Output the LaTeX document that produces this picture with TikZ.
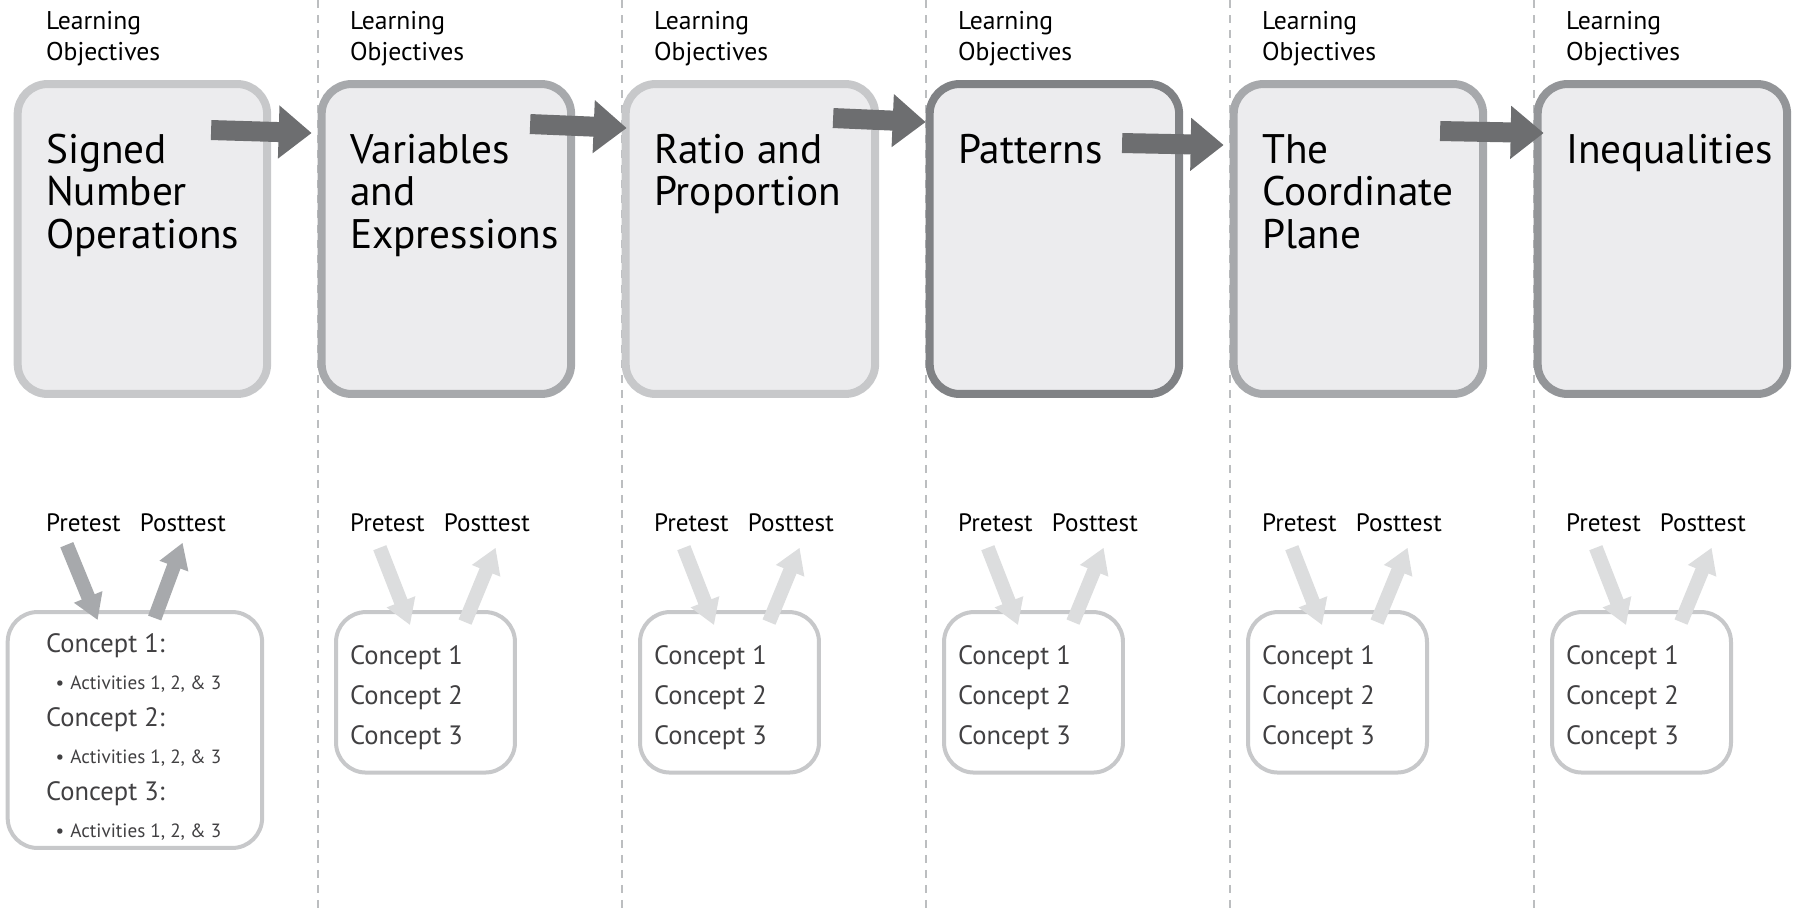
\documentclass[tikz,border=0pt]{standalone}
\usepackage{fontspec}
\setmainfont{PT Sans}
\usetikzlibrary{arrows.meta,calc}

\definecolor{boxfill}{HTML}{ECECEE}
\definecolor{lightrim}{HTML}{C7C8CA}
\definecolor{midrim}{HTML}{A7A9AC}
\definecolor{deeprim}{HTML}{939598}
\definecolor{darkrim}{HTML}{808285}
\definecolor{arrowgray}{HTML}{6D6E70}
\definecolor{testgray}{HTML}{DCDDDE}
\definecolor{divider}{HTML}{BCBEC0}
\definecolor{listtext}{HTML}{414042}

\begin{document}
\begin{tikzpicture}[x=0.02cm,y=-0.02cm]
    \tikzstyle{topic}=[rectangle, draw, line width=0.16cm, rounded corners=0.6cm, fill=boxfill, minimum width=4.99cm, minimum height=6.2cm, inner sep=0pt]
    \tikzstyle{concepts}=[rectangle, draw=lightrim, line width=0.08cm, rounded corners=0.6cm, fill=white, inner sep=0pt]
    \tikzstyle{heading}=[anchor=base west, inner sep=0pt, align=left, font=\fontsize{14.6}{17.1}\selectfont]
    \tikzstyle{title}=[anchor=base west, inner sep=0pt, align=left, font=\fontsize{23.5}{24.2}\selectfont]
    \tikzstyle{test}=[anchor=base west, inner sep=0pt, font=\fontsize{14.3}{16}\selectfont]
    \tikzstyle{list}=[anchor=base west, inner sep=0pt, align=left, text=listtext, font=\fontsize{15.1}{22.5}\selectfont]
    \tikzstyle{flow}=[draw=arrowgray, line width=0.4cm, -{Triangle[width=1.02cm,length=0.66cm]}]
    \tikzstyle{testarrow}=[line width=0.28cm, -{Triangle[width=0.58cm,length=0.5cm]}]

    \useasboundingbox (0,0) rectangle (1794,910);

    % dashed column dividers
    \foreach \x in {318,622,926,1230,1534}
        \draw[draw=divider, line width=0.05cm, dash pattern=on 0.16cm off 0.14cm] (\x,0) -- (\x,910);

    % topics
    \node[topic, draw=lightrim] (box1) at (142.4,239) {};
    \node[topic, draw=midrim] (box2) at (446.4,239) {};
    \node[topic, draw=lightrim] (box3) at (750.4,239) {};
    \node[topic, draw=darkrim] (box4) at (1054.4,239) {};
    \node[topic, draw=midrim] (box5) at (1358.4,239) {};
    \node[topic, draw=deeprim] (box6) at (1662.4,239) {};

    % base anchor = last line
    \node[heading] (goal1) at (45.8,60) {Learning\\Objectives};
    \node[heading] (goal2) at (349.8,60) {Learning\\Objectives};
    \node[heading] (goal3) at (653.8,60) {Learning\\Objectives};
    \node[heading] (goal4) at (957.8,60) {Learning\\Objectives};
    \node[heading] (goal5) at (1261.8,60) {Learning\\Objectives};
    \node[heading] (goal6) at (1565.8,60) {Learning\\Objectives};

    \node[title] (title1) at (45.8,248.3) {Signed\\Number\\Operations};
    \node[title] (title2) at (349.8,248.3) {Variables\\and\\Expressions};
    \node[title] (title3) at (653.8,205.8) {Ratio and\\Proportion};
    \node[title] (title4) at (957.8,163.3) {Patterns};
    \node[title] (title5) at (1261.8,248.3) {The\\Coordinate\\Plane};
    \node[title] (title6) at (1565.8,163.3) {Inequalities};

    % sequence
    \draw[flow] ($(box1.north east)+(-60,50)$) -- ($(box2.north west)+(-6,53)$);
    \draw[flow] ($(box2.north east)+(-45,44)$) -- ($(box3.north west)+(5,48)$);
    \draw[flow] ($(box3.north east)+(-46,38)$) -- ($(box4.north west)+(0,42)$);
    \draw[flow] ($(box4.north east)+(-61,63)$) -- ($(box5.north west)+(-6,65)$);
    \draw[flow] ($(box5.north east)+(-47,51)$) -- ($(box6.north west)+(10,53)$);

    % tests and concepts
    \node[test] (pre1) at (45.8,531.7) {Pretest};
    \node[test] (post1) at (139.6,531.7) {Posttest};
    \node[test] (pre2) at (349.8,531.7) {Pretest};
    \node[test] (post2) at (443.6,531.7) {Posttest};
    \node[test] (pre3) at (653.8,531.7) {Pretest};
    \node[test] (post3) at (747.6,531.7) {Posttest};
    \node[test] (pre4) at (957.8,531.7) {Pretest};
    \node[test] (post4) at (1051.6,531.7) {Posttest};
    \node[test] (pre5) at (1261.8,531.7) {Pretest};
    \node[test] (post5) at (1355.6,531.7) {Posttest};
    \node[test] (pre6) at (1565.8,531.7) {Pretest};
    \node[test] (post6) at (1659.6,531.7) {Posttest};

    \node[concepts, minimum width=5.09cm, minimum height=4.72cm] (con1) at (134.9,730) {};
    \node[concepts, minimum width=3.58cm, minimum height=3.21cm] (con2) at (425.5,692.3) {};
    \node[concepts, minimum width=3.58cm, minimum height=3.21cm] (con3) at (729.5,692.3) {};
    \node[concepts, minimum width=3.58cm, minimum height=3.21cm] (con4) at (1033.5,692.3) {};
    \node[concepts, minimum width=3.58cm, minimum height=3.21cm] (con5) at (1337.5,692.3) {};
    \node[concepts, minimum width=3.58cm, minimum height=3.21cm] (con6) at (1641.5,692.3) {};

    \node[list, font=\fontsize{15.1}{21}\selectfont] (list1) at (45.8,837)
        {Concept 1:\\\hspace*{0.19cm}{\fontsize{10.9}{21}\selectfont\textbullet\hspace{0.12cm}Activities 1, 2, \& 3}\\
         Concept 2:\\\hspace*{0.19cm}{\fontsize{10.9}{21}\selectfont\textbullet\hspace{0.12cm}Activities 1, 2, \& 3}\\
         Concept 3:\\\hspace*{0.19cm}{\fontsize{10.9}{21}\selectfont\textbullet\hspace{0.12cm}Activities 1, 2, \& 3}};
    \node[list] (list2) at (349.8,744) {Concept 1\\Concept 2\\Concept 3};
    \node[list] (list3) at (653.8,744) {Concept 1\\Concept 2\\Concept 3};
    \node[list] (list4) at (957.8,744) {Concept 1\\Concept 2\\Concept 3};
    \node[list] (list5) at (1261.8,744) {Concept 1\\Concept 2\\Concept 3};
    \node[list] (list6) at (1565.8,744) {Concept 1\\Concept 2\\Concept 3};

    \draw[testarrow, draw=midrim] ($(pre1.base west)+(21,13)$) -- ($(con1.north west)+(92,10)$);
    \draw[testarrow, draw=midrim] ($(con1.north west)+(149,8)$) -- ($(post1.base west)+(43,11)$);
    \draw[testarrow, draw=testgray] ($(pre2.base west)+(30,16)$) -- ($(con2.north west)+(76,15)$);
    \draw[testarrow, draw=testgray] ($(con2.north west)+(131,12)$) -- ($(post2.base west)+(52,16)$);
    \draw[testarrow, draw=testgray] ($(pre3.base west)+(30,16)$) -- ($(con3.north west)+(76,15)$);
    \draw[testarrow, draw=testgray] ($(con3.north west)+(131,12)$) -- ($(post3.base west)+(52,16)$);
    \draw[testarrow, draw=testgray] ($(pre4.base west)+(30,16)$) -- ($(con4.north west)+(76,15)$);
    \draw[testarrow, draw=testgray] ($(con4.north west)+(131,12)$) -- ($(post4.base west)+(52,16)$);
    \draw[testarrow, draw=testgray] ($(pre5.base west)+(30,16)$) -- ($(con5.north west)+(76,15)$);
    \draw[testarrow, draw=testgray] ($(con5.north west)+(131,12)$) -- ($(post5.base west)+(52,16)$);
    \draw[testarrow, draw=testgray] ($(pre6.base west)+(30,16)$) -- ($(con6.north west)+(76,15)$);
    \draw[testarrow, draw=testgray] ($(con6.north west)+(131,12)$) -- ($(post6.base west)+(52,16)$);
\end{tikzpicture}
\end{document}
